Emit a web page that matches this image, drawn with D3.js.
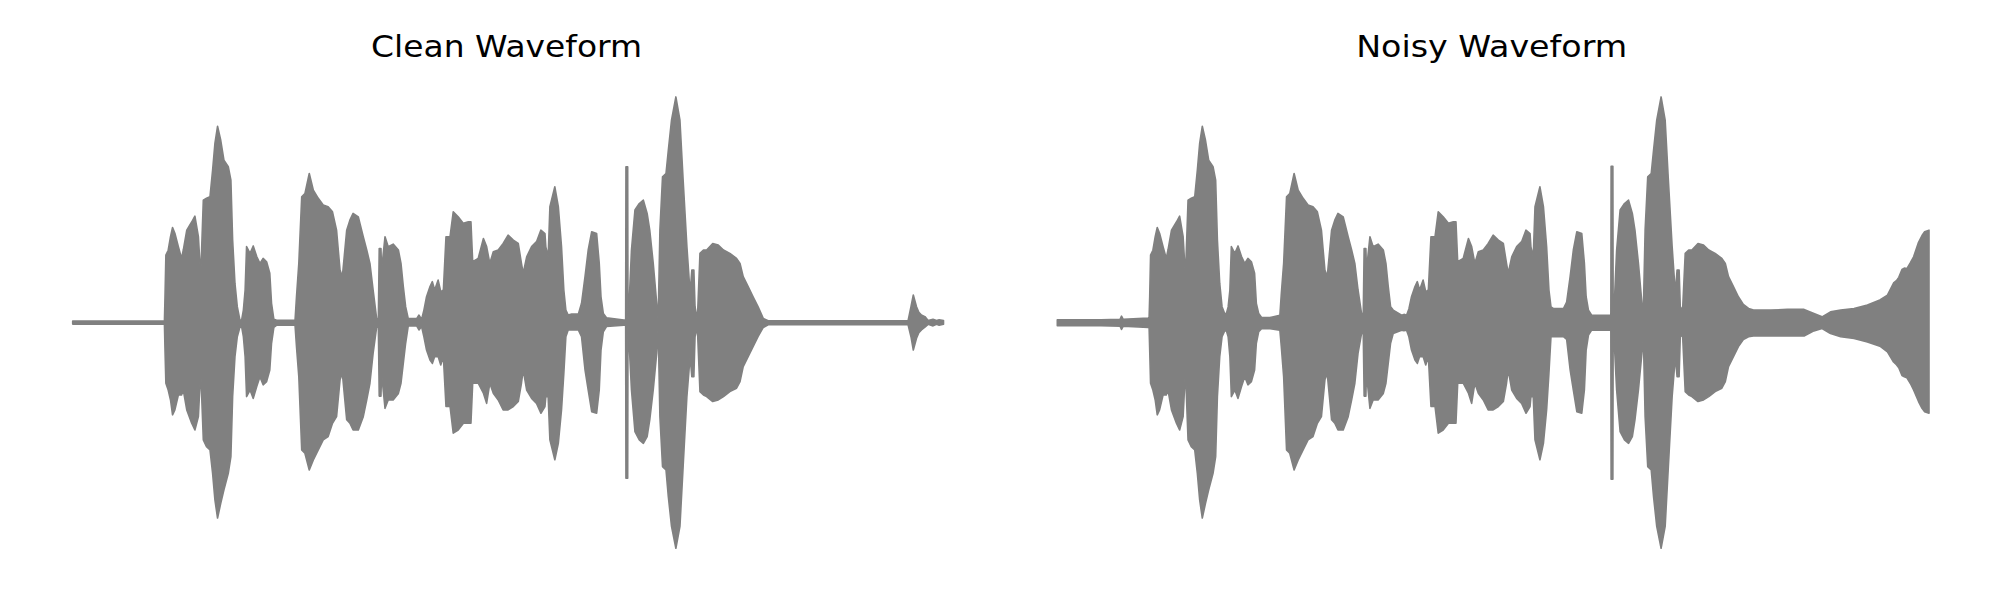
<!DOCTYPE html>
<html>
<head>
<meta charset="utf-8">
<script src="https://cdn.jsdelivr.net/npm/d3@7"></script>
<style>
  html, body { margin: 0; padding: 0; background: #ffffff; }
  svg { display: block; }
  .title { font-family: 'DejaVu Sans', sans-serif; }
</style>
</head>
<body>
<div id="chart"></div>
<script>
// ---- Data ----
const titles = ["Clean Waveform", "Noisy Waveform"];
const duration = 3.0; // seconds

// Shared time axis (s) for the amplitude envelopes
const time = [0.000,0.150,0.216,0.221,0.227,0.313,0.316,0.318,0.321,0.329,
 0.337,0.344,0.352,0.364,0.375,0.381,0.393,0.410,0.421,0.433,
 0.441,0.450,0.461,0.473,0.482,0.490,0.499,0.510,0.521,0.536,
 0.545,0.551,0.559,0.567,0.576,0.582,0.588,0.594,0.599,0.611,
 0.622,0.634,0.645,0.656,0.668,0.679,0.685,0.693,0.703,0.732,
 0.766,0.771,0.779,0.789,0.800,0.815,0.829,0.846,0.863,0.880,
 0.895,0.909,0.921,0.929,0.944,0.955,0.966,0.984,1.001,1.013,
 1.024,1.035,1.047,1.053,1.056,1.062,1.064,1.076,1.087,1.104,
 1.122,1.131,1.139,1.147,1.156,1.185,1.193,1.202,1.210,1.219,
 1.231,1.239,1.247,1.259,1.268,1.277,1.286,1.300,1.311,1.328,
 1.346,1.363,1.372,1.378,1.397,1.415,1.426,1.437,1.449,1.466,
 1.483,1.500,1.518,1.535,1.546,1.552,1.564,1.581,1.598,1.613,
 1.627,1.630,1.638,1.644,1.661,1.673,1.684,1.692,1.699,1.707,
 1.719,1.742,1.753,1.765,1.776,1.788,1.805,1.814,1.820,1.828,
 1.839,1.899,1.905,1.906,1.912,1.913,1.917,1.925,1.937,1.952,
 1.966,1.979,1.988,2.000,2.012,2.017,2.023,2.032,2.044,2.052,
 2.063,2.078,2.092,2.103,2.116,2.127,2.133,2.140,2.144,2.152,
 2.161,2.173,2.184,2.205,2.224,2.242,2.264,2.287,2.299,2.310,
 2.327,2.344,2.361,2.379,2.396,2.455,2.513,2.570,2.604,2.632,
 2.661,2.696,2.742,2.788,2.831,2.857,2.878,2.888,2.896,2.907,
 2.915,2.924,2.936,2.947,2.964,2.976,2.985,3.000];

// Clean waveform: upper / lower envelope amplitude
const cleanUpper = [.006,.006,.006,.006,.006,.006,.006,.114,.298,.320,
 .380,.421,.395,.336,.284,.321,.409,.445,.471,.380,
 .203,.542,.550,.557,.675,.793,.869,.807,.719,.690,
 .630,.365,.173,.070,.011,.011,.055,.144,.336,.306,
 .339,.292,.262,.284,.269,.218,.085,.014,.010,.010,
 .010,.114,.262,.557,.571,.660,.586,.550,.520,.513,
 .490,.409,.232,.203,.409,.453,.483,.468,.380,.321,
 .262,.144,.018,.011,.328,.328,.232,.380,.336,.347,
 .321,.262,.159,.070,.017,.017,.033,.014,.055,.114,
 .159,.181,.144,.188,.136,.144,.380,.380,.490,.468,
 .439,.446,.446,.269,.284,.372,.336,.262,.313,.321,
 .350,.387,.365,.350,.262,.218,.291,.336,.358,.409,
 .394,.335,.291,.513,.601,.513,.336,.144,.055,.033,
 .037,.037,.085,.203,.321,.402,.394,.262,.114,.040,
 .021,.011,.011,.689,.689,.011,.085,.321,.498,.527,
 .542,.483,.409,.262,.085,.011,.409,.645,.660,.763,
 .896,.999,.896,.631,.336,.129,.232,.232,.070,.011,
 .306,.321,.321,.350,.343,.321,.306,.284,.262,.203,
 .159,.114,.070,.018,.008,.008,.008,.008,.008,.008,
 .008,.008,.008,.008,.008,.008,.008,.070,.122,.070,
 .045,.033,.026,.009,.014,.009,.012,.009];
const cleanLower = [-.007,-.007,-.007,-.007,-.007,-.007,-.007,-.122,-.269,-.299,
 -.343,-.409,-.387,-.321,-.321,-.299,-.387,-.446,-.476,-.417,
 -.210,-.520,-.550,-.564,-.668,-.786,-.866,-.801,-.741,-.668,
 -.594,-.328,-.151,-.063,-.021,-.018,-.063,-.151,-.328,-.299,
 -.336,-.284,-.240,-.276,-.262,-.210,-.092,-.022,-.012,-.012,
 -.012,-.107,-.240,-.564,-.579,-.653,-.609,-.564,-.520,-.505,
 -.446,-.417,-.254,-.225,-.431,-.446,-.476,-.476,-.417,-.343,
 -.269,-.136,-.022,-.018,-.326,-.326,-.225,-.380,-.343,-.343,
 -.314,-.269,-.180,-.092,-.015,-.015,-.033,-.018,-.063,-.122,
 -.166,-.181,-.151,-.151,-.188,-.151,-.372,-.372,-.490,-.476,
 -.446,-.446,-.446,-.269,-.269,-.313,-.358,-.269,-.313,-.343,
 -.387,-.387,-.372,-.350,-.269,-.210,-.299,-.336,-.358,-.402,
 -.372,-.329,-.329,-.520,-.608,-.535,-.387,-.225,-.063,-.033,
 -.033,-.033,-.063,-.210,-.299,-.395,-.402,-.299,-.122,-.041,
 -.018,-.012,-.012,-.690,-.690,-.012,-.092,-.299,-.483,-.520,
 -.535,-.505,-.431,-.299,-.136,-.021,-.417,-.638,-.653,-.771,
 -.903,-1.000,-.903,-.638,-.328,-.151,-.240,-.240,-.063,-.021,
 -.306,-.321,-.328,-.350,-.343,-.328,-.306,-.291,-.262,-.195,
 -.151,-.107,-.063,-.022,-.010,-.010,-.010,-.010,-.010,-.010,
 -.010,-.010,-.010,-.010,-.010,-.010,-.010,-.063,-.122,-.070,
 -.045,-.033,-.021,-.008,-.015,-.008,-.012,-.008];

// Noisy waveform: upper / lower envelope amplitude
const noisyUpper = [.012,.012,.014,.028,.014,.020,.022,.114,.298,.320,
 .380,.421,.395,.336,.284,.321,.409,.445,.471,.380,
 .203,.542,.550,.557,.675,.793,.869,.807,.719,.690,
 .630,.365,.173,.070,.040,.040,.069,.144,.336,.306,
 .339,.292,.262,.284,.269,.218,.085,.040,.022,.022,
 .032,.128,.262,.557,.571,.660,.586,.550,.520,.513,
 .490,.409,.232,.203,.409,.453,.483,.468,.380,.321,
 .262,.144,.040,.040,.328,.328,.232,.380,.336,.347,
 .321,.262,.159,.070,.055,.032,.036,.032,.060,.114,
 .159,.181,.144,.188,.136,.144,.380,.380,.490,.468,
 .439,.446,.446,.269,.284,.372,.336,.262,.313,.321,
 .350,.387,.365,.350,.262,.218,.291,.336,.358,.409,
 .394,.335,.291,.513,.601,.513,.336,.144,.069,.062,
 .062,.062,.090,.203,.321,.402,.394,.262,.114,.055,
 .032,.032,.032,.692,.692,.040,.085,.321,.498,.527,
 .542,.483,.409,.262,.085,.055,.409,.645,.660,.763,
 .896,.999,.896,.631,.336,.129,.232,.232,.070,.055,
 .306,.321,.321,.350,.343,.321,.306,.284,.262,.203,
 .159,.114,.080,.062,.055,.055,.058,.058,.040,.025,
 .047,.055,.062,.077,.100,.121,.175,.185,.200,.235,
 .241,.239,.265,.291,.355,.385,.402,.409];
const noisyLower = [-.014,-.014,-.016,-.031,-.016,-.022,-.024,-.122,-.269,-.299,
 -.343,-.409,-.387,-.321,-.321,-.299,-.387,-.446,-.476,-.417,
 -.210,-.520,-.550,-.564,-.668,-.786,-.866,-.801,-.741,-.668,
 -.594,-.328,-.151,-.063,-.037,-.037,-.063,-.151,-.328,-.299,
 -.336,-.284,-.240,-.276,-.262,-.210,-.092,-.041,-.027,-.027,
 -.034,-.108,-.240,-.564,-.579,-.653,-.609,-.564,-.520,-.505,
 -.446,-.417,-.254,-.225,-.431,-.446,-.476,-.476,-.417,-.343,
 -.269,-.136,-.049,-.049,-.326,-.326,-.225,-.380,-.343,-.343,
 -.314,-.269,-.180,-.092,-.049,-.034,-.036,-.034,-.063,-.122,
 -.166,-.181,-.151,-.151,-.188,-.151,-.372,-.372,-.490,-.476,
 -.446,-.446,-.446,-.269,-.269,-.313,-.358,-.269,-.313,-.343,
 -.387,-.387,-.372,-.350,-.269,-.210,-.299,-.336,-.358,-.402,
 -.372,-.329,-.329,-.520,-.608,-.535,-.387,-.225,-.063,-.063,
 -.063,-.063,-.075,-.210,-.299,-.395,-.402,-.299,-.122,-.056,
 -.034,-.034,-.034,-.694,-.694,-.049,-.092,-.299,-.483,-.520,
 -.535,-.505,-.431,-.299,-.136,-.063,-.417,-.638,-.653,-.771,
 -.903,-1.000,-.903,-.638,-.328,-.151,-.240,-.240,-.063,-.056,
 -.306,-.321,-.328,-.350,-.343,-.328,-.306,-.291,-.262,-.195,
 -.151,-.107,-.075,-.063,-.060,-.060,-.060,-.060,-.037,-.027,
 -.049,-.063,-.071,-.086,-.105,-.130,-.175,-.187,-.200,-.235,
 -.240,-.245,-.270,-.299,-.350,-.380,-.395,-.402];

// ---- Drawing ----
const W = 2000, H = 600;
const svg = d3.select("#chart").append("svg")
  .attr("width", W).attr("height", H)
  .attr("viewBox", `0 0 ${W} ${H}`);

const panels = [
  { title: titles[0], up: cleanUpper, lo: cleanLower, x0: 72.7, x1: 943.5 },
  { title: titles[1], up: noisyUpper, lo: noisyLower, x0: 1057.3, x1: 1929.0 }
];

const y = d3.scaleLinear().domain([-1, 1]).range([548.3, 96.7]);
const color = "#808080";

panels.forEach(p => {
  const x = d3.scaleLinear().domain([0, duration]).range([p.x0, p.x1]);
  const rows = time.map((t, i) => ({ t, up: p.up[i], lo: p.lo[i] }))
    .filter(d => d.up !== undefined && d.lo !== undefined);
  const area = d3.area()
    .x(d => x(d.t))
    .y0(d => y(d.lo))
    .y1(d => y(d.up))
    .curve(d3.curveLinear);

  svg.append("path")
    .datum(rows)
    .attr("d", area)
    .attr("fill", color)
    .attr("stroke", color)
    .attr("stroke-width", 1.6)
    .attr("stroke-linejoin", "round");

  svg.append("text")
    .attr("class", "title")
    .attr("x", (p.x0 + p.x1) / 2 - 1.5)
    .attr("y", 56.7)
    .attr("text-anchor", "middle")
    .attr("textLength", 271)
    .attr("lengthAdjust", "spacingAndGlyphs")
    .style("font-family", "'DejaVu Sans', sans-serif")
    .style("font-size", "31px")
    .attr("fill", "#000000")
    .text(p.title);
});
</script>
</body>
</html>
